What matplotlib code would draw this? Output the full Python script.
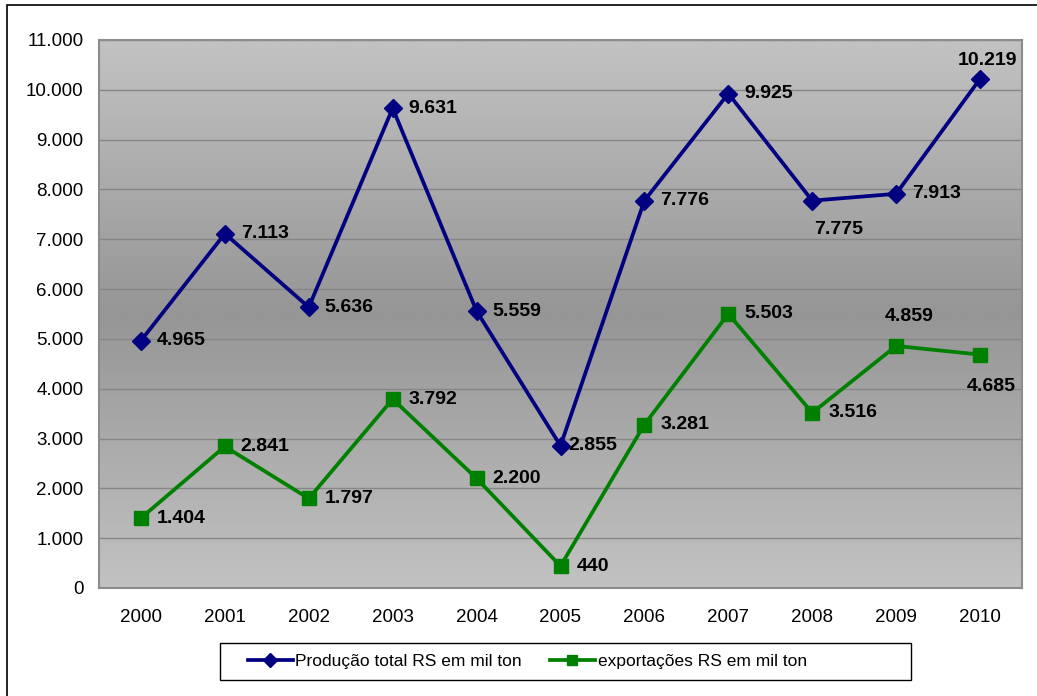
import numpy as np
import matplotlib
matplotlib.use("Agg")
import matplotlib.pyplot as plt
from matplotlib.patches import Rectangle
from matplotlib.lines import Line2D

years = ["2000", "2001", "2002", "2003", "2004", "2005", "2006", "2007", "2008", "2009", "2010"]
producao = [4965, 7113, 5636, 9631, 5559, 2855, 7776, 9925, 7775, 7913, 10219]
exportacoes = [1404, 2841, 1797, 3792, 2200, 440, 3281, 5503, 3516, 4859, 4685]
prod_label = "Produção total RS em mil ton"
exp_label = "exportações RS em mil ton"
yticks = list(range(0, 11001, 1000))

plt.rcParams['font.family'] = ['Liberation Sans', 'DejaVu Sans']

W, H = 1037, 696
fig = plt.figure(figsize=(W / 100, H / 100), dpi=100)
fig.patch.set_facecolor('white')

# outer chart border (left/top visible)
fig.add_artist(Rectangle((7 / W, -0.05), 1.2, 1 - 5 / H + 0.05, transform=fig.transFigure,
                         fill=False, edgecolor='black', linewidth=1.2))

L, R, T, B = 99, 1022, 40, 588
ax = fig.add_axes([L / W, 1 - B / H, (R - L) / W, (B - T) / H])

x = np.arange(len(years))
ax.set_xlim(-0.5, len(years) - 0.5)
ax.set_ylim(0, 11000)

# gradient background
grad = np.concatenate([np.linspace(0, 1, 50), np.linspace(1, 0, 50)])
top_c = np.array([0xc2, 0xc2, 0xc2]) / 255
mid_c = np.array([0x96, 0x96, 0x96]) / 255
img = top_c[None, :] * (1 - grad[:, None]) + mid_c[None, :] * grad[:, None]
img = np.repeat(img[:, None, :], 2, axis=1)
ax.imshow(img, extent=[-0.5, len(years) - 0.5, 0, 11000], aspect='auto', zorder=0,
          interpolation='bilinear', origin='upper')

for v in yticks[1:]:
    ax.axhline(v, color='#868686', linewidth=1.0, zorder=1)

for s in ax.spines.values():
    s.set_color('#8c8c8c')
    s.set_linewidth(1.5)

ax.set_xticks(x)
ax.set_xticklabels(years)
ax.set_yticks(yticks)
ax.set_yticklabels(["0"] + [f"{v // 1000}.000" for v in yticks[1:]])
ax.tick_params(axis='both', length=0, labelsize=13.5, colors='black')
ax.tick_params(axis='x', pad=15)
ax.tick_params(axis='y', pad=11)

ax.plot(x, producao, color='#000080', linewidth=2.7, marker='D', markersize=9.5, zorder=3)
ax.plot(x, exportacoes, color='#008000', linewidth=2.7, marker='s', markersize=10, zorder=3)

def fmt(v):
    return f"{v:,}".replace(",", ".")

px = 0.72  # px -> points
prod_off = {i: (16, 0, 'left') for i in range(len(years))}
prod_off[5] = (8, 0, 'left')
prod_off[8] = (26, -29, 'center')
prod_off[10] = (7, 18, 'center')
exp_off = {i: (16, 0, 'left') for i in range(len(years))}
exp_off[9] = (13, 29, 'center')
exp_off[10] = (11, -32, 'center')

for i, v in enumerate(producao):
    dx, dy, ha = prod_off[i]
    ax.annotate(fmt(v), (x[i], v), xytext=(dx * px, dy * px), textcoords='offset points',
                ha=ha, va='center', fontsize=14, fontweight='bold', color='black', zorder=4)
for i, v in enumerate(exportacoes):
    dx, dy, ha = exp_off[i]
    ax.annotate(fmt(v), (x[i], v), xytext=(dx * px, dy * px), textcoords='offset points',
                ha=ha, va='center', fontsize=14, fontweight='bold', color='black', zorder=4)

# legend
handles = [Line2D([], [], color='#000080', linewidth=2.7, marker='D', markersize=7),
           Line2D([], [], color='#008000', linewidth=2.7, marker='s', markersize=7)]
fig.add_artist(Rectangle((220 / W, 1 - 680 / H), (911 - 220) / W, 37 / H, transform=fig.transFigure,
                         fill=True, facecolor='white', edgecolor='black', linewidth=1.0))
leg = fig.legend(handles, [prod_label, exp_label], ncol=2, loc='center left',
                 bbox_to_anchor=(232 / W, 1 - 661.5 / H), frameon=False,
                 prop={'size': 12.5},
                 handlelength=2.6, handletextpad=0.15, columnspacing=1.6)

fig.savefig("out.png", dpi=100)
